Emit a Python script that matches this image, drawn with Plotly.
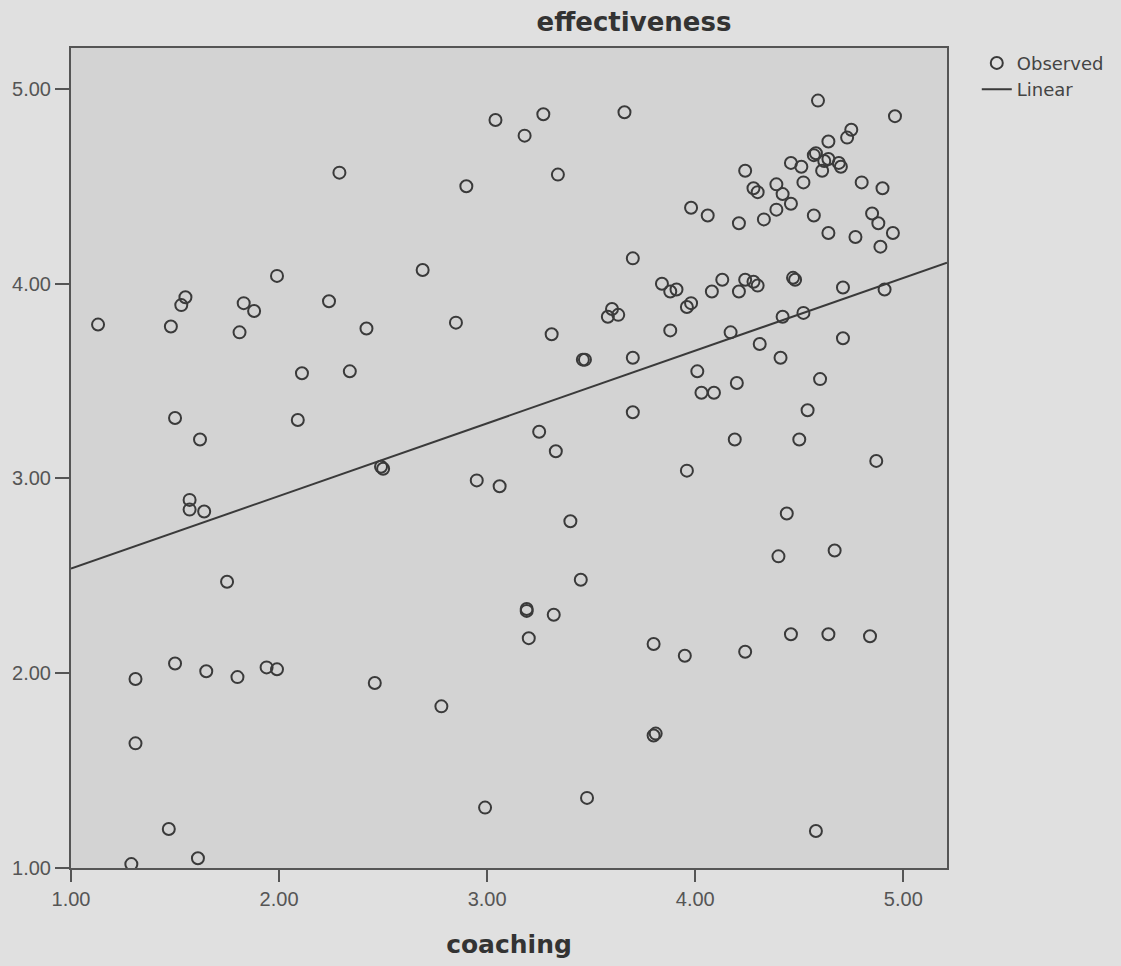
import plotly.graph_objects as go

# coaching score (x) and effectiveness score (y) for each respondent
coaching = [
    3.04, 2.29, 2.90, 1.99, 2.69, 1.55, 1.53, 1.83, 1.88, 2.24,
    1.13, 1.48, 1.81, 2.42, 2.85, 2.11, 2.34, 1.50, 2.09, 1.62,
    2.49, 2.50,
    2.95, 3.06, 1.57, 1.57, 1.64, 1.75, 1.31, 1.50, 1.65, 1.80,
    1.94, 1.99, 2.46, 2.78, 1.31, 2.99, 1.47, 1.29, 1.61,
    3.33, 3.96, 4.87, 3.40, 4.44, 4.40, 4.67, 3.45, 3.19, 3.19,
    3.32, 3.20, 3.80, 3.95, 4.24, 4.46, 4.64, 4.84, 3.80, 3.81,
    3.48, 4.58,
    3.27, 3.18, 3.66, 3.34, 4.59, 4.96, 4.75, 4.73, 4.64, 4.58,
    4.57, 4.62, 4.64, 4.69, 4.70, 4.61, 4.46, 4.51, 4.52, 4.24,
    4.28, 4.30, 4.39, 4.42, 4.46, 4.39, 4.33, 4.80, 4.90, 3.98,
    4.06, 4.21, 4.57, 4.64, 4.77, 4.85, 4.88, 4.95, 4.89, 3.70,
    3.84, 3.88, 3.91, 3.98, 3.96, 4.13, 4.08, 4.24, 4.28, 4.30,
    4.21, 4.47, 4.48, 4.71, 4.91, 3.60, 3.58, 3.63, 3.31, 3.88,
    4.17, 4.42, 4.52, 4.71, 3.46, 3.47, 3.70, 4.31, 4.41, 4.01,
    4.03, 4.09, 4.20, 4.60, 4.54, 3.70, 3.25, 4.19, 4.50,
]
effectiveness = [
    4.84, 4.57, 4.50, 4.04, 4.07, 3.93, 3.89, 3.90, 3.86, 3.91,
    3.79, 3.78, 3.75, 3.77, 3.80, 3.54, 3.55, 3.31, 3.30, 3.20,
    3.06, 3.05,
    2.99, 2.96, 2.89, 2.84, 2.83, 2.47, 1.97, 2.05, 2.01, 1.98,
    2.03, 2.02, 1.95, 1.83, 1.64, 1.31, 1.20, 1.02, 1.05,
    3.14, 3.04, 3.09, 2.78, 2.82, 2.60, 2.63, 2.48, 2.33, 2.32,
    2.30, 2.18, 2.15, 2.09, 2.11, 2.20, 2.20, 2.19, 1.68, 1.69,
    1.36, 1.19,
    4.87, 4.76, 4.88, 4.56, 4.94, 4.86, 4.79, 4.75, 4.73, 4.67,
    4.66, 4.63, 4.64, 4.62, 4.60, 4.58, 4.62, 4.60, 4.52, 4.58,
    4.49, 4.47, 4.51, 4.46, 4.41, 4.38, 4.33, 4.52, 4.49, 4.39,
    4.35, 4.31, 4.35, 4.26, 4.24, 4.36, 4.31, 4.26, 4.19, 4.13,
    4.00, 3.96, 3.97, 3.90, 3.88, 4.02, 3.96, 4.02, 4.01, 3.99,
    3.96, 4.03, 4.02, 3.98, 3.97, 3.87, 3.83, 3.84, 3.74, 3.76,
    3.75, 3.83, 3.85, 3.72, 3.61, 3.61, 3.62, 3.69, 3.62, 3.55,
    3.44, 3.44, 3.49, 3.51, 3.35, 3.34, 3.24, 3.20, 3.20,
]

# linear fit (effectiveness = intercept + slope * coaching)
fit_intercept = 2.164
fit_slope = 0.373

tick_values = [1, 2, 3, 4, 5]
tick_labels = ["1.00", "2.00", "3.00", "4.00", "5.00"]
axis_range = [1.0, 5.21]

fit_x = list(axis_range)
fit_y = [fit_intercept + fit_slope * v for v in fit_x]

ink = "#3a3a3a"
axis_ink = "#555555"

fig = go.Figure()
fig.add_trace(go.Scatter(
    x=coaching, y=effectiveness, mode="markers", name="Observed",
    marker=dict(symbol="circle-open", size=12, color=ink,
                line=dict(width=2, color=ink)),
    hoverinfo="skip",
))
fig.add_trace(go.Scatter(
    x=fit_x, y=fit_y, mode="lines", name="Linear",
    line=dict(color=ink, width=2),
    hoverinfo="skip",
))

axis_common = dict(
    range=axis_range,
    tickmode="array",
    tickvals=tick_values,
    ticktext=tick_labels,
    ticks="outside",
    tickcolor=axis_ink,
    tickwidth=2,
    showline=True,
    linecolor=axis_ink,
    linewidth=2,
    mirror=True,
    showgrid=False,
    zeroline=False,
    tickfont=dict(family="Liberation Sans, Arial, sans-serif", size=20, color="#555555"),
)

fig.update_layout(
    width=1121,
    height=966,
    margin=dict(l=69, r=168, t=48, b=95),
    paper_bgcolor="#e0e0e0",
    plot_bgcolor="#d3d3d3",
    title=dict(
        text="<b>effectiveness</b>",
        font=dict(family="DejaVu Sans, sans-serif", size=26, color="#333333"),
        x=634 / 1121, xref="container", xanchor="center",
        y=1 - 22 / 966, yref="container", yanchor="middle",
    ),
    xaxis=dict(
        **axis_common,
        ticklen=12,
        title=dict(
            text="<b>coaching</b>",
            font=dict(family="DejaVu Sans, sans-serif", size=25, color="#333333"),
            standoff=26,
        ),
    ),
    yaxis=dict(**axis_common, ticklen=14),
    legend=dict(
        x=1.034, xanchor="left", y=1.004, yanchor="top",
        bgcolor="rgba(0,0,0,0)",
        font=dict(family="DejaVu Sans, sans-serif", size=18, color="#444444"),
        itemsizing="trace",
        tracegroupgap=0,
    ),
    showlegend=True,
)

fig.write_html("out.html", config={"displayModeBar": False})
